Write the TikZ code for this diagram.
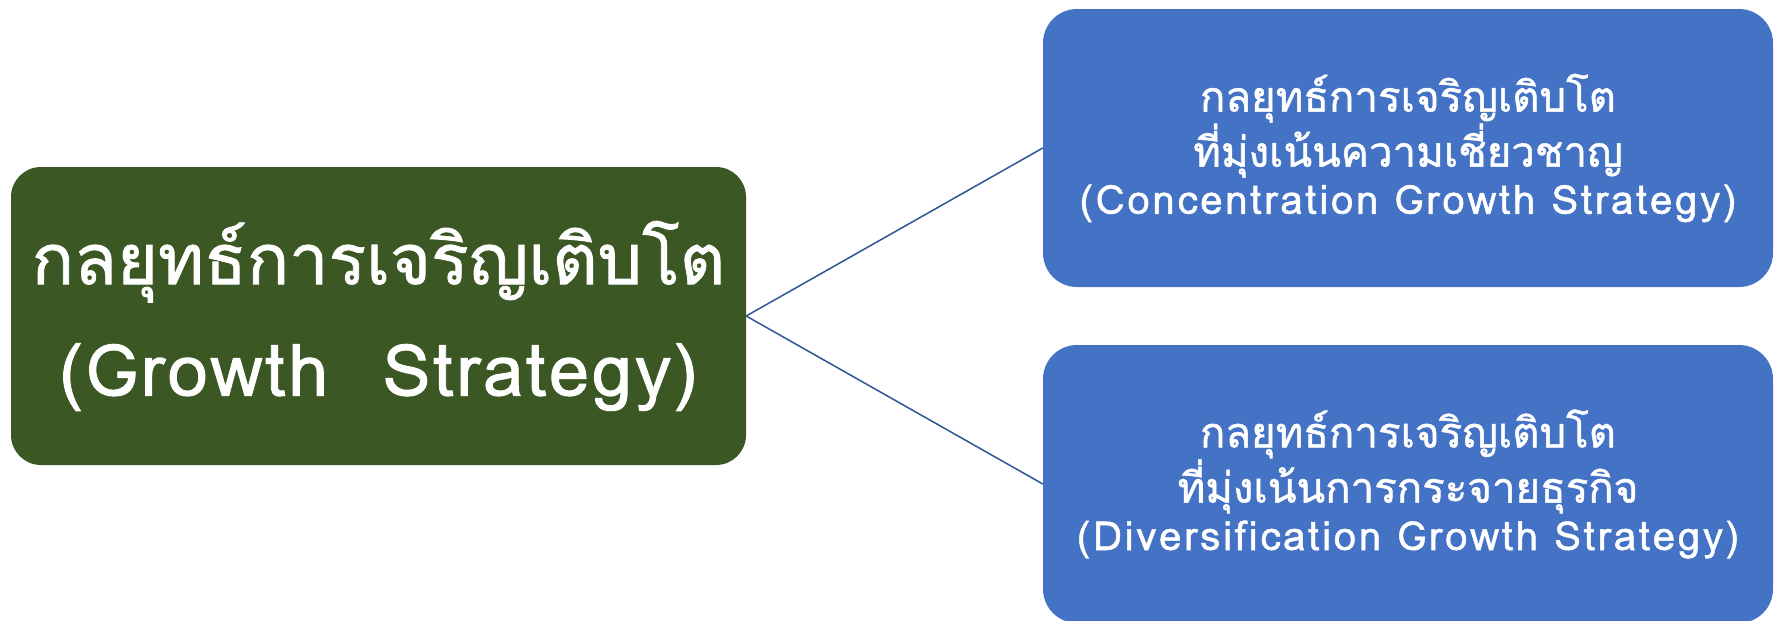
\documentclass[tikz,border=0pt]{standalone}
\usepackage{fontspec}
\newfontfamily\thaifont[Script=Thai,FakeBold=1.2]{Loma}
\definecolor{rootgreen}{HTML}{3B5724}
\definecolor{leafblue}{HTML}{4472C4}
\definecolor{linkblue}{HTML}{2F5597}
% per-line type sizes
\newcommand{\rootthai}{\fontsize{70}{109}\selectfont}
\newcommand{\rootlatin}{\fontsize{72}{109}\selectfont\addfontfeature{LetterSpace=4}}
\newcommand{\leafthai}{\fontsize{42}{52}\selectfont}
\newcommand{\leaflatin}{\fontsize{40}{52}\selectfont\addfontfeature{LetterSpace=7}}
\begin{document}
\begin{tikzpicture}[x=1pt,y=-1pt,
  rootbox/.style={fill=rootgreen, rounded corners=30pt, minimum width=735pt, minimum height=298pt,
    text=white, align=center, inner sep=0pt, font=\thaifont},
  leafbox/.style={fill=leafblue, rounded corners=34pt, minimum width=730pt, minimum height=278pt,
    text=white, align=center, inner sep=0pt, font=\thaifont},
  link/.style={draw=linkblue, line width=1.5pt}]
\clip (0,0) rectangle (1775,621);
\fill[white] (0,0) rectangle (1775,621);
\node[rootbox] (root) at (378.5,316) {\rootthai กลยุทธ์การเจริญเติบโต\\[40pt]\rootlatin(Growth~~Strategy)};
\node[leafbox] (conc) at (1408,148) {\leafthai กลยุทธ์การเจริญเติบโต\\\leafthai ที่มุ่งเน้นความเชี่ยวชาญ\\[6pt]\leaflatin(Concentration Growth Strategy)};
\node[leafbox] (divr) at (1408,484) {\leafthai กลยุทธ์การเจริญเติบโต\\\leafthai ที่มุ่งเน้นการกระจายธุรกิจ\\[6pt]\leaflatin(Diversification Growth Strategy)};
\draw[link] (root.east) -- (conc.west);
\draw[link] (root.east) -- (divr.west);
\end{tikzpicture}
\end{document}
